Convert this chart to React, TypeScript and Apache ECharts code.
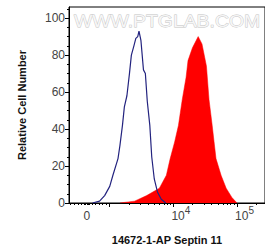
import React, { useEffect, useRef } from "react";
import * as echarts from "echarts";

// x positions are in axis "decade" units (10^3 -> 3, 10^4 -> 4, 10^5 -> 5; "0" sits at 2.64)
const blueX = [2.73, 2.84, 2.92, 3.0, 3.05, 3.13, 3.16, 3.2, 3.23, 3.27, 3.31, 3.34, 3.38, 3.41, 3.44, 3.46, 3.49, 3.53, 3.56, 3.59, 3.63, 3.66, 3.7, 3.75, 3.81, 3.88];
const blueY = [0, 1, 4, 9, 15, 24, 31, 42, 52, 58, 70, 80, 85, 89, 90, 93, 88, 72, 70, 55, 42, 25, 13, 6, 2, 0];

const redX = [3.16, 3.39, 3.58, 3.78, 3.89, 3.95, 4.02, 4.08, 4.14, 4.2, 4.23, 4.3, 4.36, 4.39, 4.45, 4.52, 4.56, 4.61, 4.64, 4.67, 4.75, 4.83, 4.92, 5.0];
const redY = [0, 1, 4, 8, 15, 24, 33, 42, 56, 68, 77, 84, 88, 90, 86, 74, 56, 42, 33, 24, 15, 8, 3, 0];

const xLabelPos = [2.64, 4, 5];
const xLabelBase = ["0", "10", "10"];
const xLabelSup = ["", "4", "5"];
const xMajorTicks = [3, 4, 5];
const xMinorTicks = [2.38, 2.44, 2.5, 2.55, 2.6, 2.62, 2.64, 2.66, 2.68, 2.72, 2.78, 2.83, 2.88, 2.94,
  3.3, 3.48, 3.6, 3.7, 3.78, 3.85, 3.9, 3.95,
  4.3, 4.48, 4.6, 4.7, 4.78, 4.85, 4.9, 4.95, 5.3];

const yTicks = [0, 20, 40, 60, 80, 100];

const xTitle = "14672-1-AP Septin 11";
const yTitle = "Relative Cell Number";
const watermark = "WWW.PTGLAB.COM";

const FONT = "Liberation Sans, Arial, sans-serif";

export default function App() {
  const ref = useRef<HTMLDivElement>(null);
  useEffect(() => {
    if (!ref.current) return;
    const chart = echarts.init(ref.current, null, { renderer: "svg" });
    const zip = (xs: number[], ys: number[]) => xs.map((x, i) => [x, ys[i]]);
    chart.setOption({
      animation: false,
      backgroundColor: "#fff",
      grid: { left: 69, top: 7, right: -2, bottom: 47, show: true, borderColor: "#000", borderWidth: 1 },
      xAxis: [
        {
          type: "value", min: 2.36, max: 5.44, position: "bottom", offset: 0,
          axisLine: { show: true, onZero: false, lineStyle: { color: "#000", width: 1 } },
          axisTick: { show: true, customValues: xMajorTicks, length: 4, lineStyle: { color: "#000" } },
          axisLabel: {
            show: true, customValues: xLabelPos, margin: 7,
            formatter: (v: number) => {
              const i = xLabelPos.findIndex((p) => Math.abs(p - v) < 1e-6);
              if (i < 0) return "";
              if (!xLabelSup[i]) return "{b|" + xLabelBase[i] + "}{z| }";
              return "{p| }{b|" + xLabelBase[i] + "}{s|" + xLabelSup[i] + "}";
            },
            rich: {
              p: { fontSize: 12, width: 15, lineHeight: 12, verticalAlign: "bottom" },
              z: { fontSize: 1, width: 0, lineHeight: 10, verticalAlign: "bottom", padding: [0, 0, 7, 0] },
              b: { fontSize: 12, fontFamily: FONT, color: "#444", lineHeight: 12, verticalAlign: "bottom" },
              s: { fontSize: 10, fontFamily: FONT, color: "#444", lineHeight: 10, verticalAlign: "bottom", padding: [0, 0, 7, 0] },
            },
          },
          splitLine: { show: false },
        },
        {
          type: "value", min: 2.36, max: 5.44, position: "bottom", offset: 0,
          axisLine: { show: false, onZero: false },
          axisTick: { show: true, customValues: xMinorTicks, length: 2, lineStyle: { color: "#000" } },
          axisLabel: { show: false },
          splitLine: { show: false },
        },
      ],
      yAxis: {
        type: "value", min: 0, max: 106, interval: 20,
        axisLine: { show: true, lineStyle: { color: "#000", width: 1 } },
        axisTick: { show: true, length: 4, customValues: yTicks, lineStyle: { color: "#000" } },
        minorTick: { show: true, splitNumber: 4, length: 2, lineStyle: { color: "#000" } },
        axisLabel: { fontSize: 12, fontFamily: FONT, color: "#444", margin: 4, customValues: yTicks },
        splitLine: { show: false },
      },
      graphic: [
        {
          type: "text", x: 167, y: 21, z: -1, scaleX: 1.14,
          style: { text: watermark, font: "17px " + FONT, fill: "#f6f6f6", stroke: "#c4c4c4", lineWidth: 0.8, align: "center", verticalAlign: "middle" },
        },
        {
          type: "text", x: 22, y: 105, rotation: Math.PI / 2,
          style: { text: yTitle, font: "bold 11px " + FONT, fill: "#111", align: "center", verticalAlign: "middle" },
        },
        {
          type: "text", x: 167, y: 240,
          style: { text: xTitle, font: "bold 11px " + FONT, fill: "#111", align: "center", verticalAlign: "middle" },
        },
      ],
      series: [
        {
          type: "line", data: zip(redX, redY), showSymbol: false, xAxisIndex: 0,
          lineStyle: { color: "#ff0000", width: 0.5 },
          areaStyle: { color: "#ff0000", opacity: 1 },
          itemStyle: { color: "#ff0000" },
        },
        {
          type: "line", data: zip(blueX, blueY), showSymbol: false, xAxisIndex: 0,
          lineStyle: { color: "#23237f", width: 1.2 },
          itemStyle: { color: "#23237f" },
        },
      ],
    });
    return () => chart.dispose();
  }, []);
  return <div ref={ref} style={{ width: 265, height: 250, position: "absolute", left: 0, top: 0 }} />;
}
